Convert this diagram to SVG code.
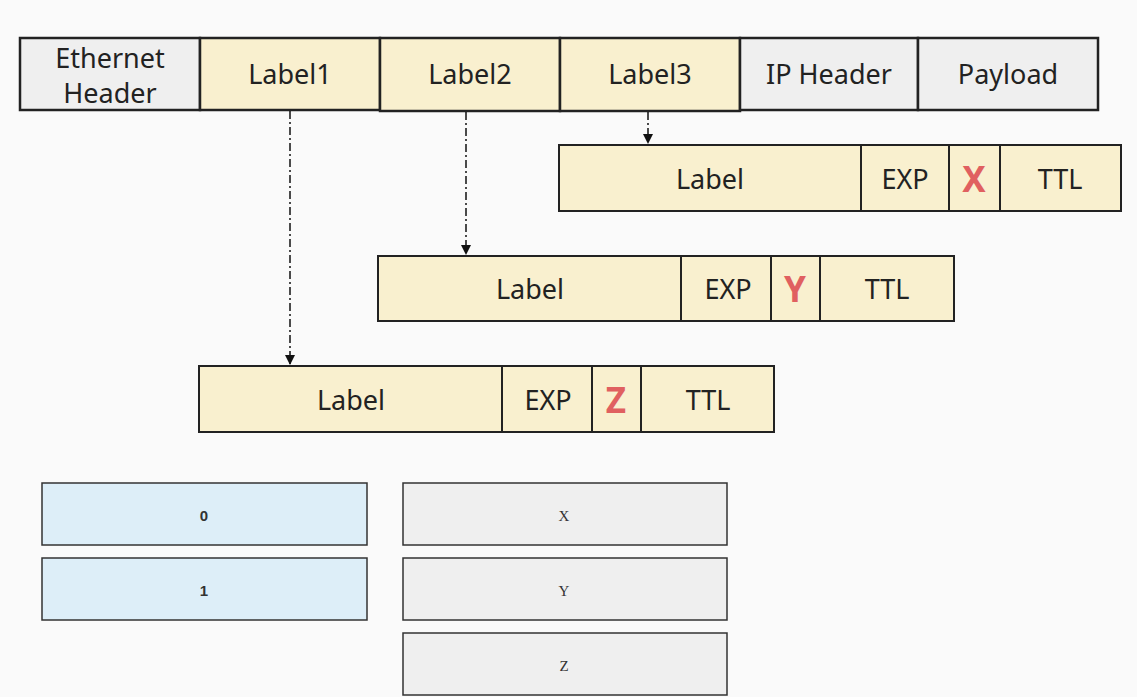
<svg xmlns="http://www.w3.org/2000/svg" width="1137" height="697" viewBox="0 0 1137 697">
<defs>
<marker id="ah" viewBox="0 0 10 10" refX="10" refY="5" markerWidth="10" markerHeight="10" markerUnits="userSpaceOnUse" orient="auto">
<path d="M0,0 L10,5 L0,10 Z" fill="#111"/>
</marker>
<style>
.bg{fill:#fafafa}
.y{fill:#f9f0cf;stroke:#222;stroke-width:2}
.g{fill:#efefef;stroke:#222;stroke-width:2.5}
.y2{fill:#f9f0cf;stroke:#222;stroke-width:2.5}
.b{fill:#ddeef8;stroke:#333;stroke-width:1.5}
.gb{fill:#efefef;stroke:#333;stroke-width:1.5}
.t{font-family:"Noto Sans","Open Sans",sans-serif;font-size:27px;fill:#222;text-anchor:middle;dominant-baseline:central}
.r{font-family:"Noto Sans","Open Sans",sans-serif;font-size:35px;font-weight:bold;fill:#e06060;text-anchor:middle;dominant-baseline:central}
.s{font-family:"Liberation Sans",Arial,sans-serif;font-size:15px;font-weight:bold;fill:#333;text-anchor:middle;dominant-baseline:central}
.m{font-family:"Liberation Serif","Times New Roman",serif;font-size:15px;fill:#333;text-anchor:middle;dominant-baseline:central}
.c{stroke:#111;stroke-width:1.5;fill:none;stroke-dasharray:8 3 2 3;marker-end:url(#ah)}
</style>
</defs>
<rect class="bg" x="0" y="0" width="1137" height="697"/>
<g id="header">
<g id="eth"><rect class="g" x="20" y="38" width="180" height="72"/><text class="t" x="110" y="57">Ethernet</text><text class="t" x="110" y="92">Header</text></g>
<g id="label1"><rect class="y2" x="200" y="38" width="180" height="72"/><text class="t" x="290" y="73">Label1</text></g>
<g id="label2"><rect class="y2" x="380" y="38" width="180" height="73"/><text class="t" x="470" y="73">Label2</text></g>
<g id="label3"><rect class="y2" x="560" y="38" width="180" height="73"/><text class="t" x="650" y="73">Label3</text></g>
<g id="iphdr"><rect class="g" x="740" y="38" width="178" height="72"/><text class="t" x="829" y="73">IP Header</text></g>
<g id="payload"><rect class="g" x="918" y="38" width="180" height="72"/><text class="t" x="1008" y="73">Payload</text></g>
</g>
<g id="boxX">
<rect class="y" x="559" y="145" width="302" height="66"/><text class="t" x="710" y="178">Label</text>
<rect class="y" x="861" y="145" width="88" height="66"/><text class="t" x="905" y="178">EXP</text>
<rect class="y" x="949" y="145" width="51" height="66"/><text class="r" x="974" y="178">X</text>
<rect class="y" x="1000" y="145" width="121" height="66"/><text class="t" x="1060" y="178">TTL</text>
</g>
<g id="boxY">
<rect class="y" x="378" y="256" width="303" height="65"/><text class="t" x="530" y="288">Label</text>
<rect class="y" x="681" y="256" width="90" height="65"/><text class="t" x="728" y="288">EXP</text>
<rect class="y" x="771" y="256" width="49" height="65"/><text class="r" x="795" y="288">Y</text>
<rect class="y" x="820" y="256" width="134" height="65"/><text class="t" x="887" y="288">TTL</text>
</g>
<g id="boxZ">
<rect class="y" x="199" y="366" width="303" height="66"/><text class="t" x="351" y="399">Label</text>
<rect class="y" x="502" y="366" width="90" height="66"/><text class="t" x="548" y="399">EXP</text>
<rect class="y" x="592" y="366" width="49" height="66"/><text class="r" x="616" y="399">Z</text>
<rect class="y" x="641" y="366" width="133" height="66"/><text class="t" x="708" y="399">TTL</text>
</g>
<g id="connectors">
<line class="c" x1="290" y1="111" x2="290" y2="365"/>
<line class="c" x1="466" y1="112" x2="466" y2="255"/>
<line class="c" x1="648" y1="112" x2="648" y2="144"/>
</g>
<g id="v0"><rect class="b" x="42" y="483" width="325" height="62"/><text class="s" x="204" y="515">0</text></g>
<g id="v1"><rect class="b" x="42" y="558" width="325" height="62"/><text class="s" x="204" y="590">1</text></g>
<g id="vX"><rect class="gb" x="403" y="483" width="324" height="62"/><text class="m" x="564" y="516">X</text></g>
<g id="vY"><rect class="gb" x="403" y="558" width="324" height="62"/><text class="m" x="564" y="591">Y</text></g>
<g id="vZ"><rect class="gb" x="403" y="633" width="324" height="62"/><text class="m" x="564" y="666">Z</text></g>
</svg>
